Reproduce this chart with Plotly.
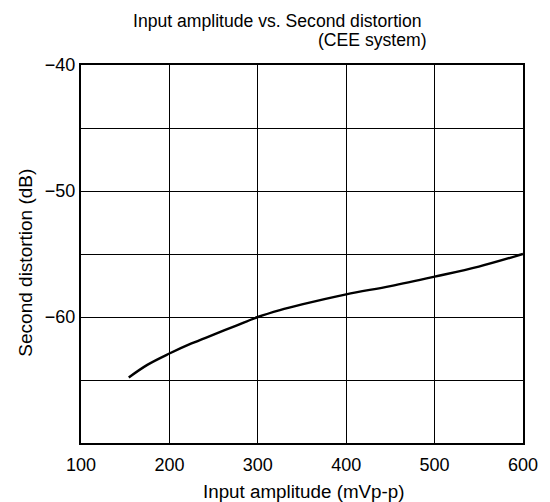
import plotly.graph_objects as go

input_mv = [154, 175, 200, 225, 250, 275, 300, 325, 350, 400, 450, 500, 550, 600]
distortion_db = [-64.8, -63.8, -62.9, -62.1, -61.4, -60.7, -60.0, -59.45, -59.0, -58.2, -57.55, -56.8, -56.0, -55.0]

x_ticks = [100, 200, 300, 400, 500, 600]
x_labels = ["100", "200", "300", "400", "500", "600"]
y_ticks = [-70, -65, -60, -55, -50, -45, -40]
y_labels = ["", "", "\u221260", "", "\u221250", "", "\u221240"]

FONT = "Liberation Sans, Arial, sans-serif"

# plot area at x 81..528, y 65..443 (page body margin removed below)
W, H = 550, 502
L, T, PW, PH = 81, 65, 447, 378


def px(x):
    return (x - L) / PW


def py(y):
    return (T + PH - y) / PH


fig = go.Figure()
fig.add_trace(go.Scatter(
    x=input_mv, y=distortion_db, mode="lines",
    line=dict(color="black", width=2.4, shape="spline", smoothing=1.0),
    showlegend=False, hoverinfo="skip",
))

fig.update_layout(
    width=W, height=H,
    margin=dict(l=L, r=W - L - PW, t=T, b=H - T - PH),
    plot_bgcolor="white", paper_bgcolor="white",
    font=dict(family=FONT, size=18, color="black"),
    xaxis=dict(
        range=[100, 600], tickvals=x_ticks, ticktext=x_labels,
        showgrid=True, gridcolor="black", gridwidth=1,
        showline=True, linecolor="black", linewidth=2, mirror=True,
        ticks="", zeroline=False, tickfont=dict(size=18),
        ticklabelstandoff=4,
    ),
    yaxis=dict(
        range=[-70, -40], tickvals=y_ticks, ticktext=y_labels,
        showgrid=True, gridcolor="black", gridwidth=1,
        showline=True, linecolor="black", linewidth=2, mirror=True,
        ticks="", zeroline=False, tickfont=dict(size=18),
    ),
    annotations=[
        dict(text="Input amplitude vs. Second distortion", xref="paper", yref="paper",
             x=px(280), y=py(21), xanchor="center", yanchor="middle",
             showarrow=False, font=dict(size=17.6)),
        dict(text="(CEE system)", xref="paper", yref="paper",
             x=px(433), y=py(40), xanchor="right", yanchor="middle",
             showarrow=False, font=dict(size=17.6)),
        dict(text="Input amplitude (mVp-p)", xref="paper", yref="paper",
             x=px(306), y=py(491), xanchor="center", yanchor="middle",
             showarrow=False, font=dict(size=18.8)),
        dict(text="Second distortion (dB)", xref="paper", yref="paper",
             x=px(24), y=py(263), xanchor="center", yanchor="middle", textangle=-90,
             showarrow=False, font=dict(size=19)),
    ],
)

fig.write_html(
    "out.html",
    config={"displayModeBar": False},
    post_script="document.body.style.margin='0px';document.body.style.overflow='hidden';",
)
